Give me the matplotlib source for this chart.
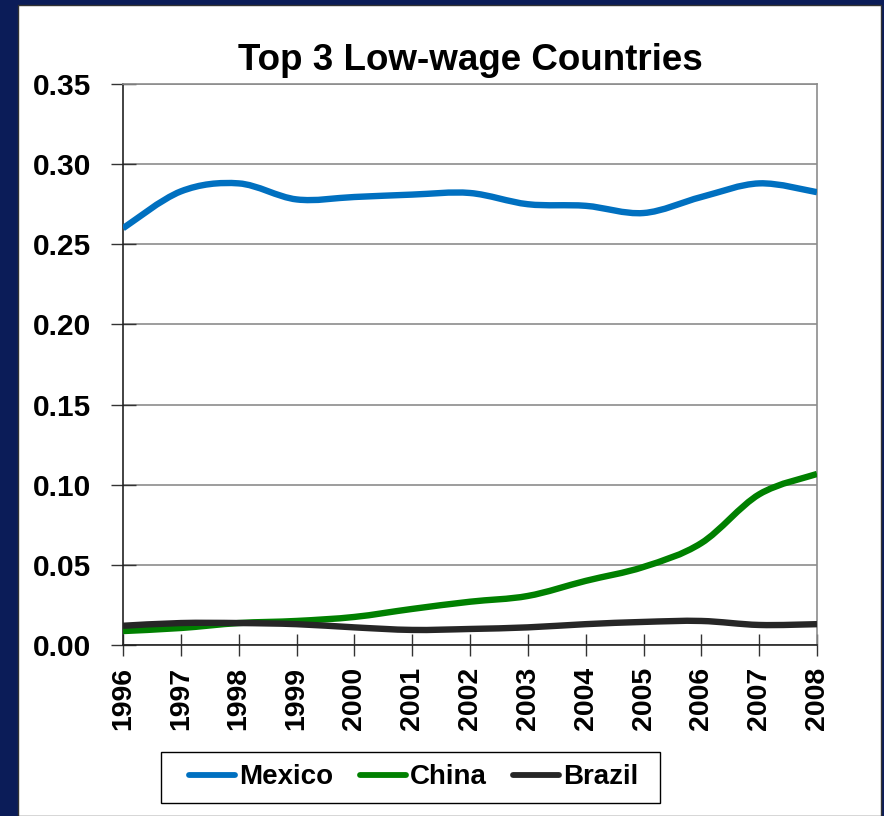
import numpy as np
import matplotlib.pyplot as plt
from matplotlib.path import Path
from matplotlib.patches import PathPatch, Rectangle
from matplotlib.lines import Line2D

plt.rcParams["font.family"] = ["Liberation Sans", "DejaVu Sans"]
plt.rcParams["font.weight"] = "bold"

years = [1996, 1997, 1998, 1999, 2000, 2001, 2002, 2003, 2004, 2005, 2006, 2007, 2008]
mexico = [0.260, 0.283, 0.288, 0.278, 0.2795, 0.281, 0.282, 0.275, 0.274, 0.2695, 0.2795, 0.288, 0.2825]
china = [0.0087, 0.0106, 0.0137, 0.015, 0.0175, 0.0225, 0.027, 0.0306, 0.040, 0.0487, 0.0636, 0.094, 0.1067]
brazil = [0.012, 0.0137, 0.0137, 0.013, 0.011, 0.0094, 0.010, 0.011, 0.013, 0.0144, 0.015, 0.0125, 0.013]

series = [("Mexico", mexico, "#0070c0"),
          ("China", china, "#008000"),
          ("Brazil", brazil, "#262626")]

NAVY = "#0b1c58"


def smooth_path(xs, ys):
    # Excel-style smoothed line: cubic Bezier between the data points
    pts = np.column_stack([xs, ys]).astype(float)
    n = len(pts)
    verts = [pts[0]]
    codes = [Path.MOVETO]
    for i in range(n - 1):
        p0 = pts[i - 1] if i > 0 else pts[i]
        p1 = pts[i]
        p2 = pts[i + 1]
        p3 = pts[i + 2] if i + 2 < n else pts[i + 1]
        c1 = p1 + (p2 - p0) / 6.0
        c2 = p2 - (p3 - p1) / 6.0
        verts += [c1, c2, p2]
        codes += [Path.CURVE4] * 3
    return Path(verts, codes)


fig = plt.figure(figsize=(8.84, 8.16), dpi=100, facecolor=NAVY)
fig.patches.append(Rectangle((18 / 884, 0), 863 / 884, 811 / 816,
                             transform=fig.transFigure, facecolor="white",
                             edgecolor="#333333", linewidth=1.0, zorder=-10))

ax = fig.add_axes([123 / 884, 1 - 645 / 816, 694 / 884, 561 / 816])
ax.set_facecolor("white")

for name, vals, color in series:
    patch = PathPatch(smooth_path(years, vals), facecolor="none", edgecolor=color,
                      linewidth=4.6, capstyle="butt", joinstyle="round", zorder=3)
    ax.add_patch(patch)

ax.set_xlim(1996, 2008)
ax.set_ylim(0, 0.35)
ax.set_xticks(years)
ax.set_xticklabels([str(y) for y in years], rotation=90, fontsize=20.5, fontweight="bold")
ax.set_yticks(np.arange(0, 0.351, 0.05))
ax.set_yticklabels([f"{v:.2f}" for v in np.arange(0, 0.351, 0.05)], fontsize=21.5,
                   fontweight="bold")
ax.yaxis.grid(True, color="#8c8c8c", linewidth=1.2)
ax.set_axisbelow(True)
ax.tick_params(axis="both", direction="inout", width=1.0, color="#333333")
ax.tick_params(axis="x", length=16, pad=8)
ax.tick_params(axis="y", length=18, pad=14)
ax.spines["left"].set_color("#222222")
ax.spines["bottom"].set_color("#222222")
ax.spines["right"].set_color("#8c8c8c")
ax.spines["top"].set_color("#8c8c8c")
for s in ax.spines.values():
    s.set_linewidth(1.2)

fig.text(470 / 884, 1 - 60 / 816, "Top 3 Low-wage Countries", ha="center", va="center",
         fontsize=26.5, fontweight="bold")

# legend box drawn separately so its padding matches the original
fig.patches.append(Rectangle((161 / 884, 1 - 803 / 816), 499 / 884, 51 / 816,
                             transform=fig.transFigure, facecolor="white",
                             edgecolor="black", linewidth=1.0, zorder=1))
handles = [Line2D([], [], color=c, linewidth=4.2, solid_capstyle="round") for _, _, c in series]
leg = fig.legend(handles, [n for n, _, _ in series], loc="center",
                 bbox_to_anchor=(414 / 884, 1 - 777.5 / 816), bbox_transform=fig.transFigure,
                 ncol=3, fontsize=20, frameon=False,
                 handlelength=1.65, handletextpad=0.15, columnspacing=0.95, borderpad=0.35)
leg.set_zorder(2)
for t in leg.get_texts():
    t.set_fontweight("bold")

fig.savefig("out.png", dpi=100, facecolor=NAVY)
